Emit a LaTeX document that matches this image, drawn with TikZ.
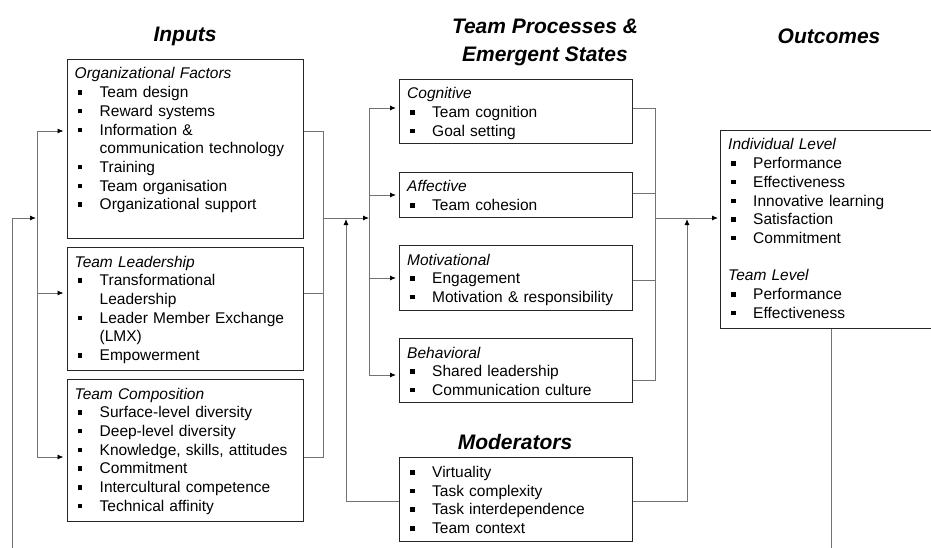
\documentclass[tikz,border=0pt]{standalone}
\usepackage{fontspec}
\setmainfont{Liberation Sans}
\usetikzlibrary{arrows.meta, positioning, calc}

% bullet and continuation indent for the lists
\newcommand{\itm}{\makebox[25pt][l]{\hspace*{3pt}\rule[3pt]{4.5pt}{4.5pt}}}
\newcommand{\cnt}{\hspace*{25pt}}

\begin{document}
\begin{tikzpicture}[x=1pt, y=-1pt,
        box/.style={draw=black!85, line width=1.1pt, anchor=north west, inner sep=0pt},
        txt/.style={anchor=base west, inner sep=0pt, text width=225pt, align=left,
            font=\fontsize{15.5}{18.7}\selectfont},
        head/.style={font=\fontsize{21}{28}\selectfont\bfseries\itshape, align=center, inner sep=0pt},
        conn/.style={draw=black!55, line width=0.9pt},
        arr/.style={conn, -{Latex[length=6pt, width=5pt, color=black]}, shorten >=3pt}
    ]
        \useasboundingbox (0,0) rectangle (931,548);

        % Tiêu đề
        \node[head] (hInputs) at (185,36) {Inputs};
        \node[head] (hProc) at (545,42) {Team Processes \&\\Emergent States};
        \node[head] (hOut) at (829,36) {Outcomes};
        \node[head] (hMode) at (515,442) {Moderators};

        % Các hộp
        \node[box, minimum width=236pt, minimum height=179pt] (orgf) at (66.5,59) {};
        \node[box, minimum width=236pt, minimum height=123pt] (lead) at (66.5,247) {};
        \node[box, minimum width=236pt, minimum height=142pt] (comp) at (66.5,379) {};
        \node[box, minimum width=233pt, minimum height=64pt] (cogn) at (399,79) {};
        \node[box, minimum width=233pt, minimum height=45pt] (affe) at (399,172) {};
        \node[box, minimum width=233pt, minimum height=65pt] (moti) at (399,245) {};
        \node[box, minimum width=233pt, minimum height=64pt] (beha) at (399,338) {};
        \node[box, minimum width=233pt, minimum height=84pt] (mode) at (399,457) {};
        \node[box, minimum width=211pt, minimum height=198pt] (outc) at (720,130) {};

        % Nội dung
        \node[txt] (orgfT) at ($(orgf.north west)+(8,20)$) {\textit{Organizational Factors}\\
            \itm Team design\\
            \itm Reward systems\\
            \itm Information \&\\
            \cnt communication technology\\
            \itm Training\\
            \itm Team organisation\\
            \itm Organizational support};
        \node[txt] (leadT) at ($(lead.north west)+(8,20)$) {\textit{Team Leadership}\\
            \itm Transformational\\
            \cnt Leadership\\
            \itm Leader Member Exchange\\
            \cnt (LMX)\\
            \itm Empowerment};
        \node[txt] (compT) at ($(comp.north west)+(8,20)$) {\textit{Team Composition}\\
            \itm Surface-level diversity\\
            \itm Deep-level diversity\\
            \itm Knowledge, skills, attitudes\\
            \itm Commitment\\
            \itm Intercultural competence\\
            \itm Technical affinity};
        \node[txt] (cognT) at ($(cogn.north west)+(8,20)$) {\textit{Cognitive}\\
            \itm Team cognition\\
            \itm Goal setting};
        \node[txt] (affeT) at ($(affe.north west)+(8,20)$) {\textit{Affective}\\
            \itm Team cohesion};
        \node[txt] (motiT) at ($(moti.north west)+(8,20)$) {\textit{Motivational}\\
            \itm Engagement\\
            \itm Motivation \& responsibility};
        \node[txt] (behaT) at ($(beha.north west)+(8,20)$) {\textit{Behavioral}\\
            \itm Shared leadership\\
            \itm Communication culture};
        \node[txt] (modeT) at ($(mode.north west)+(8,20.5)$) {\itm Virtuality\\
            \itm Task complexity\\
            \itm Task interdependence\\
            \itm Team context};
        \node[txt] (outcT) at ($(outc.north west)+(8,20)$) {\textit{Individual Level}\\
            \itm Performance\\
            \itm Effectiveness\\
            \itm Innovative learning\\
            \itm Satisfaction\\
            \itm Commitment\\[18.7pt]
            \textit{Team Level}\\
            \itm Performance\\
            \itm Effectiveness};

        % Điểm nối
        \coordinate (fbL) at (12,548);
        \coordinate (inA) at (37,131);
        \coordinate (inB) at (37,293);
        \coordinate (inC) at (37,457);
        \coordinate (inJ) at (37,218);
        \coordinate (outA) at (323,131);
        \coordinate (outB) at (323,293);
        \coordinate (outC) at (323,457);
        \coordinate (outJ) at (323,218);
        \coordinate (prJ) at (369,218);
        \coordinate (prA) at (369,108);
        \coordinate (prB) at (369,195);
        \coordinate (prC) at (369,278);
        \coordinate (prD) at (369,375);
        \coordinate (rtA) at (655,108);
        \coordinate (rtB) at (655,193);
        \coordinate (rtC) at (655,280);
        \coordinate (rtD) at (655,380);
        \coordinate (rtJ) at (655,218);
        \coordinate (mdL) at (346,501);
        \coordinate (mdLJ) at (346,218);
        \coordinate (mdR) at (687,501);
        \coordinate (mdRJ) at (687,218);
        \coordinate (fbR) at (831,548);

        % Phản hồi về đầu vào
        \draw[arr, shorten >=1pt] (fbL) |- (inJ);
        \draw[conn] (inA) -- (inC);
        \draw[arr] (inA) -- (orgf.west |- inA);
        \draw[arr] (inB) -- (lead.west |- inB);
        \draw[arr] (inC) -- (comp.west |- inC);

        % Đầu vào -> quá trình
        \draw[conn] (orgf.east |- outA) -- (outA) -- (outC) -- (comp.east |- outC);
        \draw[conn] (lead.east |- outB) -- (outB);
        \draw[arr, shorten >=0pt] (outJ) -- (prJ);
        \draw[conn] (prA) -- (prD);
        \draw[arr] (prA) -- (cogn.west |- prA);
        \draw[arr] (prB) -- (affe.west |- prB);
        \draw[arr] (prC) -- (moti.west |- prC);
        \draw[arr] (prD) -- (beha.west |- prD);

        % Quá trình -> kết quả
        \draw[conn] (cogn.east |- rtA) -- (rtA) -- (rtD) -- (beha.east |- rtD);
        \draw[conn] (affe.east |- rtB) -- (rtB);
        \draw[conn] (moti.east |- rtC) -- (rtC);
        \draw[arr, shorten >=2pt] (rtJ) -- (outc.west |- rtJ);

        % Điều tiết
        \draw[arr, shorten >=1pt] (mode.west |- mdL) -- (mdL) -- (mdLJ);
        \draw[arr, shorten >=1pt] (mode.east |- mdR) -- (mdR) -- (mdRJ);
        \draw[conn] (outc.south -| fbR) -- (fbR);
    \end{tikzpicture}
\end{document}
